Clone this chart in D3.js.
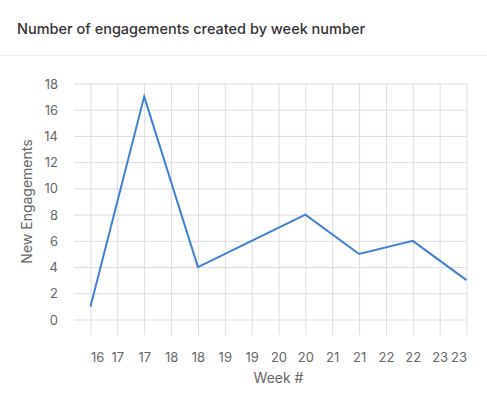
<!DOCTYPE html>
<html>
<head>
<meta charset="utf-8">
<script src="https://cdn.jsdelivr.net/npm/d3@7"></script>
<style>
  html, body { margin: 0; padding: 0; background: #fff; }
  svg { display: block; font-family: "Inter", "Liberation Sans", sans-serif; }
</style>
</head>
<body>
<svg id="chart" width="487" height="399"></svg>
<script>
const title = "Number of engagements created by week number";
const weeks = [16, 17, 18, 20, 21, 22, 23];
const engagements = [1, 17, 4, 8, 5, 6, 3];
const xTickValues = [16, 16.5, 17, 17.5, 18, 18.5, 19, 19.5, 20, 20.5, 21, 21.5, 22, 22.5, 23];
const xTickLabels = ["16", "17", "17", "18", "18", "19", "19", "20", "20", "21", "21", "22", "22", "23", "23"];
const yTickValues = [0, 2, 4, 6, 8, 10, 12, 14, 16, 18];
const xTitle = "Week #";
const yTitle = "New Engagements";

const svg = d3.select("#chart");
const W = 487, H = 399;
const m = { left: 90.5, right: 466.5, top: 83.5, bottom: 319.5 };

// Header
svg.append("text").attr("x", 17).attr("y", 34)
  .attr("font-size", 14.5).attr("fill", "#333").attr("font-weight", 500)
  .text(title);
svg.append("line").attr("x1", 0).attr("x2", W).attr("y1", 55.5).attr("y2", 55.5)
  .attr("stroke", "#eeeeee").attr("stroke-width", 1);

const x = d3.scaleLinear().domain([16, 23]).range([m.left, m.right]);
const y = d3.scaleLinear().domain([0, 18]).range([m.bottom, m.top]);

const gridColor = "#dcdcdc";
// Vertical gridlines with tick extension
const gx = svg.append("g").attr("transform", `translate(0,${m.bottom})`)
  .call(d3.axisBottom(x).tickValues(xTickValues)
    .tickSize(-(m.bottom - m.top)).tickSizeOuter(0)
    .tickFormat((d, i) => xTickLabels[i]));
gx.select(".domain").remove();
gx.selectAll(".tick line").attr("stroke", gridColor).attr("y2", 15.5);
gx.selectAll(".tick line").attr("y1", -(m.bottom - m.top));
gx.selectAll(".tick text").attr("fill", "#666").attr("font-size", 13)
  .attr("font-family", "Inter, 'Liberation Sans', sans-serif")
  .attr("y", 0).attr("dy", 0)
  .attr("transform", "translate(0,42)")
  .attr("text-anchor", "middle")
  .each(function(d, i) {
    const t = d3.select(this);
    if (i === 0) t.attr("text-anchor", "start").attr("dx", 0);
    if (i === xTickValues.length - 1) t.attr("text-anchor", "end").attr("dx", 0);
  });

// Horizontal gridlines
const gy = svg.append("g").attr("transform", `translate(${m.left},0)`)
  .call(d3.axisLeft(y).tickValues(yTickValues)
    .tickSize(16.5).tickSizeOuter(0));
gy.select(".domain").remove();
gy.selectAll(".tick line").attr("stroke", gridColor)
  .attr("x1", -16.5).attr("x2", m.right - m.left);
gy.selectAll(".tick text").attr("fill", "#666").attr("font-size", 13)
  .attr("font-family", "Inter, 'Liberation Sans', sans-serif")
  .attr("x", -32.5).attr("dy", "0.35em");

// Line
const line = d3.line().x((d, i) => x(weeks[i])).y(d => y(d));
svg.append("path").datum(engagements)
  .attr("d", line).attr("fill", "none")
  .attr("stroke", "#3f80d3").attr("stroke-width", 2)
  .attr("stroke-linejoin", "miter");

// Axis titles
svg.append("text").attr("x", (m.left + m.right) / 2).attr("y", 383)
  .attr("text-anchor", "middle").attr("font-size", 14).attr("fill", "#666")
  .text(xTitle);
svg.append("text").attr("transform", `translate(32,${(m.top + m.bottom) / 2}) rotate(-90)`)
  .attr("text-anchor", "middle").attr("font-size", 14).attr("fill", "#666")
  .text(yTitle);
</script>
</body>
</html>
